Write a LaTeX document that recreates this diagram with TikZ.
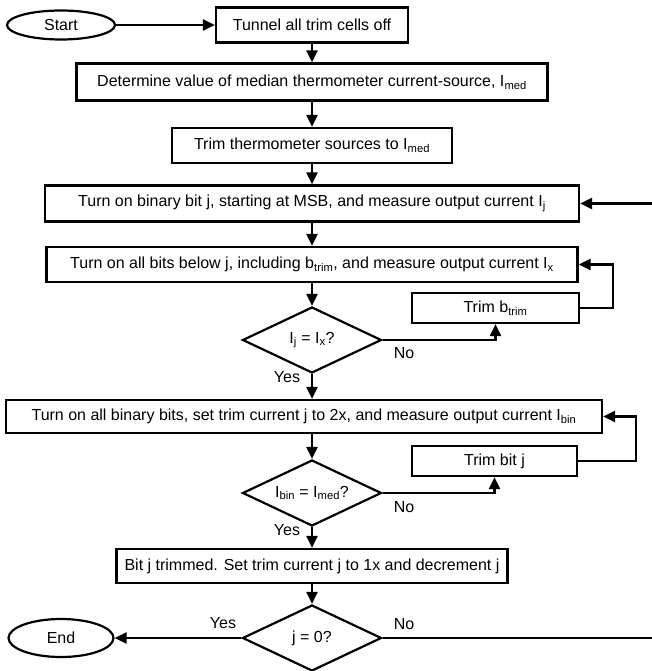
\documentclass[tikz,border=0pt]{standalone}
\usepackage{fontspec}
\setmainfont{Liberation Sans}
\usetikzlibrary{arrows.meta,shapes.geometric}

\begin{document}
\begin{tikzpicture}[x=1pt,y=-1pt,
  >={Triangle[length=12pt,width=11pt]},
  font=\fontsize{16}{19}\selectfont,
  stepbox/.style={draw,line width=2.2pt,inner sep=0pt,minimum height=35pt},
  terminal/.style={draw,ellipse,line width=2.2pt,inner sep=0pt},
  decision/.style={draw,diamond,aspect=2.1,line width=2.2pt,inner sep=0pt,
    minimum width=139pt,minimum height=66pt},
  flow/.style={->,line width=2.2pt},
  answer/.style={inner sep=0pt}]

\useasboundingbox (0,0) rectangle (652,671);

%% Main column
\node[terminal,minimum width=108pt,minimum height=29pt] (start) at (61,25) {Start};
\node[stepbox,minimum width=192pt] (tunnel) at (312,25) {Tunnel all trim cells off};
\node[stepbox,minimum width=471pt,minimum height=37pt] (median) at (312,82)
  {Determine value of median thermometer current-source, I\textsubscript{med}};
\node[stepbox,minimum width=280pt] (thermo) at (312,145.5)
  {Trim thermometer sources to I\textsubscript{med}};
\node[stepbox,minimum width=534pt,minimum height=36pt] (msb) at (312,203.5)
  {Turn on binary bit j, starting at MSB, and measure output current I\textsubscript{j}};
\node[stepbox,minimum width=531pt] (below) at (312,264.5)
  {Turn on all bits below j, including b\textsubscript{trim}, and measure output current I\textsubscript{x}};
\node[decision] (cmpx) at (312,340) {I\textsubscript{j} = I\textsubscript{x}?};
\node[stepbox,minimum width=596pt,minimum height=33pt] (allbits) at (304,416.5)
  {Turn on all binary bits, set trim current j to 2x, and measure output current I\textsubscript{bin}};
\node[decision] (cmpbin) at (312,493) {I\textsubscript{bin} = I\textsubscript{med}?};
\node[stepbox,minimum width=391pt,minimum height=34pt] (done) at (312,566)
  {Bit j trimmed. Set trim current j to 1x and decrement j};
\node[decision] (last) at (312,638) {j = 0?};
\node[terminal,minimum width=105pt,minimum height=38pt] (end) at (61,638) {End};

%% Trim boxes of the two loops
\node[stepbox,minimum width=167pt,minimum height=30pt] (trimb) at (495.5,308) {Trim b\textsubscript{trim}};
\node[stepbox,minimum width=165pt,minimum height=30pt] (trimj) at (494.5,461) {Trim bit j};

%% Answers
\node[answer] (no1) at (404,353) {No};
\node[answer] (yes1) at (287,377) {Yes};
\node[answer] (no2) at (404,507) {No};
\node[answer] (yes2) at (287,530) {Yes};
\node[answer] (yes3) at (223,623) {Yes};
\node[answer] (no3) at (404,624) {No};

%% Flow
\draw[flow] (start) -- (tunnel);
\draw[flow] (tunnel) -- (median);
\draw[flow] (median) -- (thermo);
\draw[flow] (thermo) -- (msb);
\draw[flow] (msb) -- (below);
\draw[flow] (below) -- (cmpx);
\draw[flow] (cmpx.south) -- (cmpx.south |- allbits.north);
\draw[flow] (cmpbin.north |- allbits.south) -- (cmpbin.north);
\draw[flow] (cmpbin) -- (done);
\draw[flow] (done) -- (last);
\draw[flow] (last) -- (end);

%% Loops
\draw[flow] (cmpx.east) -| (trimb.south);
\draw[flow] (trimb.east) -- ++(33,0) |- (below.east);
\draw[flow] (cmpbin.east) -| (trimj.south);
\draw[flow] (trimj.east) -- ++(58,0) |- (allbits.east);
\coordinate (back) at (672,638);
\draw[flow] (last.east) -- (back) |- (msb.east);

\end{tikzpicture}
\end{document}
